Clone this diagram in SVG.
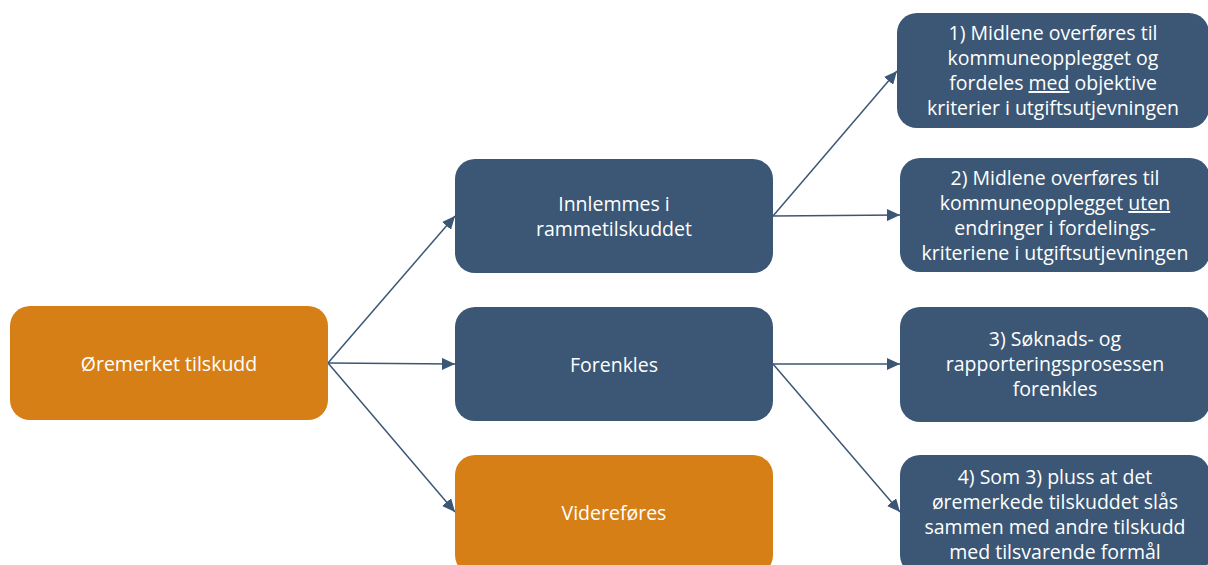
<svg xmlns="http://www.w3.org/2000/svg" width="1208" height="565" viewBox="0 0 1208 565">
  <style>
    .blue { fill: #3b5775; }
    .orange { fill: #d67f17; }
    .t { font-family: "Open Sans", "Liberation Sans", sans-serif; font-size: 19.5px; fill: #ffffff; text-anchor: middle; }
    .c { stroke: #3b5775; stroke-width: 1.5; fill: none; marker-end: url(#ah); }
  </style>
  <defs>
    <marker id="ah" markerUnits="userSpaceOnUse" markerWidth="14" markerHeight="12" refX="13" refY="6" orient="auto">
      <path d="M0,0 L13,6 L0,12 Z" fill="#3b5775"/>
    </marker>
  </defs>
  <rect width="1208" height="565" fill="#ffffff"/>

  <g id="connectors">
    <line class="c" x1="328" y1="363" x2="455" y2="216"/>
    <line class="c" x1="328" y1="363" x2="455" y2="364"/>
    <line class="c" x1="328" y1="363" x2="455" y2="512"/>
    <line class="c" x1="773" y1="216" x2="897" y2="71"/>
    <line class="c" x1="773" y1="216" x2="900" y2="215"/>
    <line class="c" x1="773" y1="364" x2="900" y2="364"/>
    <line class="c" x1="773" y1="364" x2="900" y2="512"/>
  </g>

  <g id="n-oremerket">
    <rect class="orange" x="10" y="306" width="318" height="114" rx="20"/>
    <text class="t" x="169" y="371">Øremerket tilskudd</text>
  </g>

  <g id="n-innlemmes">
    <rect class="blue" x="455" y="159" width="318" height="114" rx="20"/>
    <text class="t" x="614" y="211">Innlemmes i</text>
    <text class="t" x="614" y="236">rammetilskuddet</text>
  </g>

  <g id="n-forenkles">
    <rect class="blue" x="455" y="307" width="318" height="114" rx="20"/>
    <text class="t" x="614" y="372">Forenkles</text>
  </g>

  <g id="n-viderefores">
    <rect class="orange" x="455" y="455" width="318" height="120" rx="20"/>
    <text class="t" x="614" y="520">Videreføres</text>
  </g>

  <g id="n-1">
    <rect class="blue" x="897" y="13" width="312" height="115" rx="20"/>
    <text class="t" x="1053" y="40">1) Midlene overføres til</text>
    <text class="t" x="1053" y="65">kommuneopplegget og</text>
    <text class="t" x="1053" y="90">fordeles <tspan text-decoration="underline">med</tspan> objektive</text>
    <text class="t" x="1053" y="115">kriterier i utgiftsutjevningen</text>
  </g>

  <g id="n-2">
    <rect class="blue" x="900" y="158" width="310" height="114" rx="20"/>
    <text class="t" x="1055" y="185">2) Midlene overføres til</text>
    <text class="t" x="1055" y="210">kommuneopplegget <tspan text-decoration="underline">uten</tspan></text>
    <text class="t" x="1055" y="235">endringer i fordelings-</text>
    <text class="t" x="1055" y="260">kriteriene i utgiftsutjevningen</text>
  </g>

  <g id="n-3">
    <rect class="blue" x="900" y="307" width="310" height="115" rx="20"/>
    <text class="t" x="1055" y="346">3) Søknads- og</text>
    <text class="t" x="1055" y="371">rapporteringsprosessen</text>
    <text class="t" x="1055" y="396">forenkles</text>
  </g>

  <g id="n-4">
    <rect class="blue" x="900" y="455" width="310" height="120" rx="20"/>
    <text class="t" x="1055" y="484">4) Som 3) pluss at det</text>
    <text class="t" x="1055" y="509">øremerkede tilskuddet slås</text>
    <text class="t" x="1055" y="534">sammen med andre tilskudd</text>
    <text class="t" x="1055" y="559">med tilsvarende formål</text>
  </g>
</svg>
